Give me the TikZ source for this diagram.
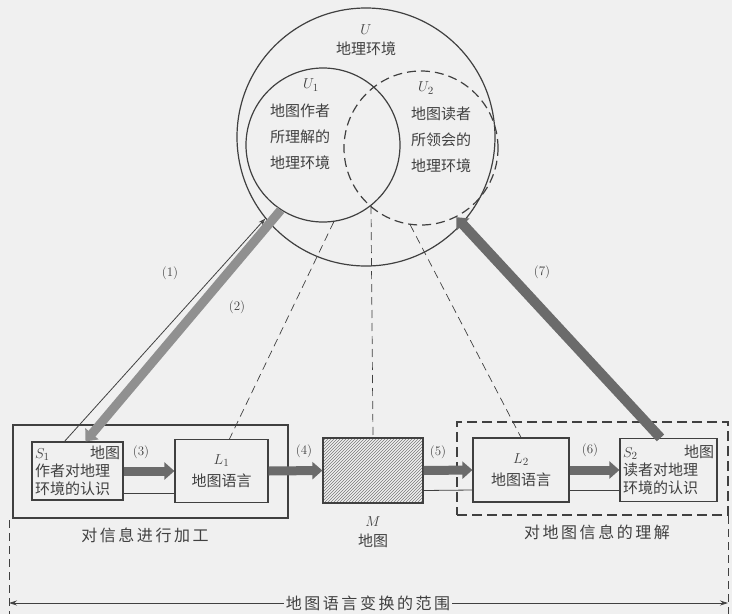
\documentclass[tikz,border=0pt]{standalone}
\usepackage{fontspec}
\newfontfamily\cjk{Noto Sans CJK SC}
\newfontfamily\cjkwide{Noto Sans CJK SC}[LetterSpace=16]
\usetikzlibrary{positioning, arrows.meta, patterns}

\definecolor{paper}{gray}{0.94}
\definecolor{ink}{gray}{0.25}
\definecolor{bandgray}{gray}{0.42}

\begin{document}
\begin{tikzpicture}[x=1pt, y=-1pt, on grid, ink,
    font=\cjk\fontsize{15}{18}\selectfont,
    ring/.style={circle, draw=ink, line width=1.2pt, inner sep=0pt},
    box/.style={draw=ink, line width=1.2pt, inner sep=3pt, align=center},
    frame/.style={draw=ink, line width=2.6pt, inner sep=0pt},
    fat/.style={draw=bandgray, line width=9pt, -{Triangle[length=10pt, width=17pt]}},
    back/.style={draw=ink, line width=0.8pt},
    guide/.style={draw=ink, line width=0.7pt, dash pattern=on 8pt off 5pt},
    tag/.style={font=\rmfamily\fontsize{13}{15}\selectfont},
    caption/.style={font=\cjkwide\fontsize{16}{18}\selectfont}]
    \fill[paper] (0,0) rectangle (732,614);
    \useasboundingbox (0,0) rectangle (732,614);

    \node[ring, minimum size=258pt] (U) at (366,137) {};
    \node[ring, minimum size=154pt] (U1) at (323,145) {};
    \node[ring, minimum size=154pt, dash pattern=on 9pt off 5pt] (U2) at (421,148) {};
    \coordinate (meet) at (371,206);

    \node (Ut) at (366,30) {$U$};
    \node (Ux) [below=19pt of Ut] {地理环境};
    \node (U1t) at (311,85) {$U_1$};
    \node[align=center, font=\cjk\fontsize{15}{26}\selectfont] (U1x) at (300,137) {地图作者\\所理解的\\地理环境};
    \node (U2t) at (426,88) {$U_2$};
    \node[align=center, font=\cjk\fontsize{15}{26}\selectfont] (U2x) at (441,140) {地图读者\\所领会的\\地理环境};

    \node[frame, minimum width=275pt, minimum height=93pt] (proc) at (150.5,471.5) {};
    \node[frame, minimum width=271pt, minimum height=93pt, dash pattern=on 10pt off 5pt] (read) at (592.5,468.5) {};

    \node[box, text width=85pt, align=left, minimum height=58pt] (S1) at (77.5,471) {$S_1$\hfill 地图\\作者对地理\\环境的认识};
    \node[box, minimum width=93pt, minimum height=63pt, font=\cjk\fontsize{15}{22}\selectfont] (L1) [right=144pt of S1] {$L_1$\\地图语言};
    \node[box, minimum width=100pt, minimum height=65pt, pattern=north east lines, pattern color=ink!70] (M) at (373,470.5) {};
    \node[box, minimum width=96pt, minimum height=64pt, font=\cjk\fontsize{15}{22}\selectfont] (L2) at (521,470) {$L_2$\\地图语言};
    \node[box, text width=91pt, align=left, minimum height=63pt] (S2) [right=147.5pt of L2] {$S_2$\hfill 地图\\读者对地理\\环境的认识};

    \node[caption] (procx) at (145,535) {对信息进行加工};
    \node (Mt) at (373,522) {$M$};
    \node (Mx) [below=19pt of Mt] {地图};
    \node[caption] (readx) at (597,532) {对地图信息的理解};

    \draw[guide] (meet) -- (M.north);
    \draw[guide] (U1.-82) -- ([xshift=8pt]L1.north);
    \draw[guide] (U2.-98) -- (L2.north);

    \draw[back, -{Stealth[length=7pt, width=5pt, open]}] ([xshift=-13pt]S1.north) -- (U.-141);
    \draw[fat, draw=bandgray!75] (U1.-123) -- ([xshift=8pt]S1.north);
    \draw[fat, line width=10pt] ([xshift=-8pt]S2.north) -- (U2.-63);

    \draw[fat] (S1.east) -- (L1.west);
    \draw[fat] (L1.east) -- (M.west);
    \draw[fat] (M.east) -- (L2.west);
    \draw[fat] (L2.east) -- (S2.west);
    \draw[back] ([yshift=-22pt]L1.west) -- ([yshift=-22pt]S1.east);
    \draw[back] ([yshift=-20pt]L2.west) -- ([yshift=-20pt]M.east);
    \draw[back] ([yshift=-20pt]S2.west) -- ([yshift=-20pt]L2.east);

    \node[tag] at (170,273) {(1)};
    \node[tag] at (237,307) {(2)};
    \node[tag] at (141,452) {(3)};
    \node[tag] at (304,451) {(4)};
    \node[tag] at (438,452) {(5)};
    \node[tag] at (590,450) {(6)};
    \node[tag] at (542,272) {(7)};

    \coordinate (rlt) at (9,520);
    \coordinate (rlb) at (9,614);
    \coordinate (rrt) at (728,516);
    \coordinate (rrb) at (728,614);
    \draw[guide] (rlt) -- (rlb);
    \draw[guide] (rrt) -- (rrb);
    \coordinate (rl) at (9,603);
    \coordinate (rr) at (728,603);
    \draw[back, {Stealth[length=8pt, width=5pt]}-{Stealth[length=8pt, width=5pt]}] (rl) -- (rr);
    \node[caption, fill=paper, inner xsep=2pt] (range) at (368,603) {地图语言变换的范围};
\end{tikzpicture}
\end{document}
